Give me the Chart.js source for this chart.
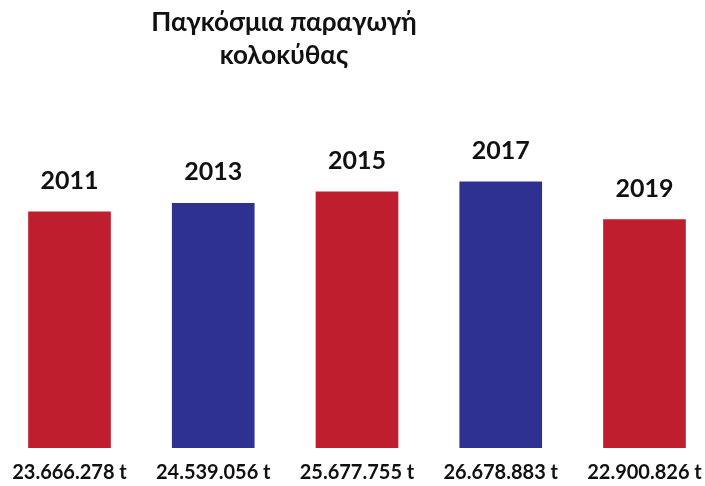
<!DOCTYPE html>
<html>
<head>
<meta charset="utf-8">
<script src="https://cdn.jsdelivr.net/npm/chart.js@4"></script>
<style>
  html, body { margin: 0; padding: 0; background: #fff; }
  #wrap { width: 705px; height: 486px; position: relative; }
</style>
</head>
<body>
<div id="wrap"><canvas id="barChart"></canvas></div>
<script>
const titleLines = ["Παγκόσμια παραγωγή", "κολοκύθας"];
const years = ["2011", "2013", "2015", "2017", "2019"];
const production = [23666278, 24539056, 25677755, 26678883, 22900826];
const barColors = ["#be1e2d", "#2e3192", "#be1e2d", "#2e3192", "#be1e2d"];

const fmt = n => n.toString().replace(/\B(?=(\d{3})+(?!\d))/g, ".") + " t";

// year above each bar, tonnage under the chart, title at the top
const labelsPlugin = {
  id: "labels",
  afterDatasetsDraw(chart) {
    const ctx = chart.ctx;
    const meta = chart.getDatasetMeta(0);
    ctx.save();
    ctx.fillStyle = "#111";
    ctx.textAlign = "center";
    ctx.textBaseline = "middle";
    meta.data.forEach((bar, i) => {
      ctx.font = "bold 25px Lato, 'Open Sans', sans-serif";
      ctx.fillText(years[i], bar.x, bar.y - 31);
      ctx.font = "bold 20px Lato, 'Open Sans', sans-serif";
      ctx.fillText(fmt(production[i]), bar.x, 473);
    });
    ctx.font = "bold 26px Lato, 'Open Sans', sans-serif";
    ctx.fillText(titleLines[0], 284, 23);
    ctx.fillText(titleLines[1], 284, 56);
    ctx.restore();
  }
};

const barCtx = document.getElementById("barChart");

new Chart(barCtx, {
  type: "bar",
  data: {
    datasets: [{
      data: production.map((v, i) => ({ x: i, y: v })),
      backgroundColor: barColors,
      barThickness: 82
    }]
  },
  options: {
    responsive: true,
    maintainAspectRatio: false,
    animation: false,
    layout: { padding: { top: 49, bottom: 38, left: 0, right: 0 } },
    plugins: {
      legend: { display: false },
      tooltip: { enabled: false }
    },
    scales: {
      x: { type: "linear", offset: false, min: -0.4835, max: 4.421, display: false },
      y: { min: 0, max: 40000000, display: false }
    }
  },
  plugins: [labelsPlugin]
});
</script>
</body>
</html>
